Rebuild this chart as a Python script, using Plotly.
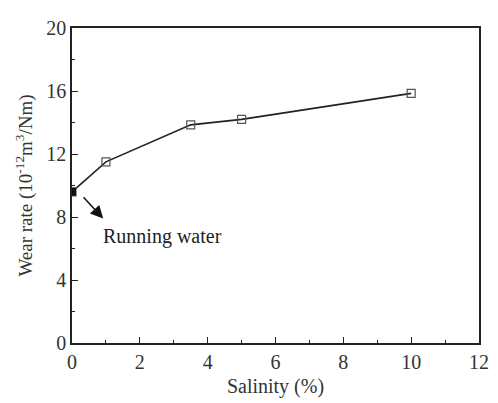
import plotly.graph_objects as go

salinity = [0, 1, 3.5, 5, 10]
wear_rate = [9.6, 11.5, 13.85, 14.2, 15.85]

x_ticks = [0, 2, 4, 6, 8, 10, 12]
y_ticks = [0, 4, 8, 12, 16, 20]

font_family = "Liberation Serif"
fig = go.Figure()
fig.add_trace(go.Scatter(
    x=salinity, y=wear_rate, mode="lines+markers",
    line=dict(color="#222222", width=1.6),
    marker=dict(symbol="square-open", size=8, color="#555555", line=dict(width=1.2)),
    showlegend=False,
))
fig.add_trace(go.Scatter(
    x=salinity[:1], y=wear_rate[:1], mode="markers",
    marker=dict(symbol="square", size=8, color="#111111"),
    showlegend=False,
))

fig.add_annotation(x=0.92, y=7.9, ax=0.3, ay=9.35, xref="x", yref="y", axref="x", ayref="y",
                   showarrow=True, arrowhead=2, arrowsize=1.7, arrowwidth=1.5, arrowcolor="#111111", text="")
fig.add_annotation(x=2.68, y=6.75, xref="x", yref="y", text="Running water", showarrow=False,
                   font=dict(family=font_family, size=20, color="#222222"))

axis_common = dict(showline=True, linecolor="#222222", linewidth=1.6, mirror=True,
                   ticks="inside", ticklen=6, tickwidth=1.4, tickcolor="#222222",
                   showgrid=False, zeroline=False,
                   tickfont=dict(family=font_family, size=20, color="#333333"))

fig.update_xaxes(range=[0, 12], tickvals=x_ticks, ticktext=[str(v) for v in x_ticks],
                 minor=dict(dtick=1, ticks="inside", ticklen=3, tickwidth=1.2, tickcolor="#222222", showgrid=False),
                 title=dict(text="Salinity (%)", font=dict(family=font_family, size=20, color="#333333"), standoff=7),
                 **axis_common)
fig.update_yaxes(range=[0, 20], tickvals=y_ticks, ticktext=[str(v) for v in y_ticks],
                 minor=dict(dtick=2, ticks="inside", ticklen=3, tickwidth=1.2, tickcolor="#222222", showgrid=False),
                 title=dict(text="Wear rate (10<sup>-12</sup>m<sup>3</sup>/Nm)",
                            font=dict(family=font_family, size=19, color="#333333"), standoff=9),
                 **axis_common)

# page body has an 8px margin; compensate so the plot area lands at the reference position
fig.update_layout(width=490, height=395, margin=dict(l=64, r=11, t=9, b=59),
                  plot_bgcolor="white", paper_bgcolor="white")
fig.write_html("out.html")
